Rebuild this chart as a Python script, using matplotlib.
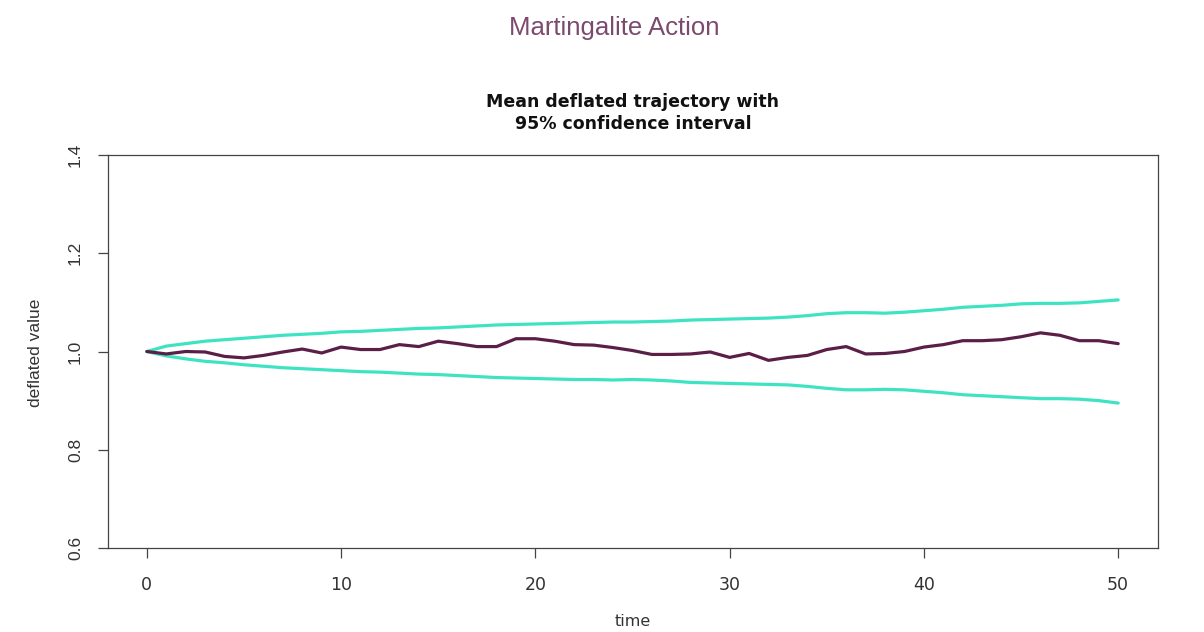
import numpy as np
import matplotlib
matplotlib.use("Agg")
import matplotlib.pyplot as plt

# Simulation time steps
time = list(range(51))

# Mean deflated trajectory
mean_traj = [1.000, 0.995, 1.000, 0.999, 0.990, 0.987, 0.992, 0.999, 1.005, 0.997,
             1.009, 1.004, 1.004, 1.014, 1.010, 1.021, 1.016, 1.010, 1.010, 1.026,
             1.026, 1.021, 1.014, 1.013, 1.008, 1.002, 0.994, 0.994, 0.995, 0.999,
             0.988, 0.996, 0.982, 0.988, 0.992, 1.004, 1.010, 0.995, 0.996, 1.000,
             1.009, 1.014, 1.022, 1.022, 1.024, 1.030, 1.038, 1.033, 1.022, 1.022,
             1.016]

# Upper and lower 95% confidence bounds
upper_ci = [1.000, 1.011, 1.016, 1.021, 1.024, 1.027, 1.030, 1.033, 1.035, 1.037,
            1.040, 1.041, 1.043, 1.045, 1.047, 1.048, 1.050, 1.052, 1.054, 1.055,
            1.056, 1.057, 1.058, 1.059, 1.060, 1.060, 1.061, 1.062, 1.064, 1.065,
            1.066, 1.067, 1.068, 1.070, 1.073, 1.077, 1.079, 1.079, 1.078, 1.080,
            1.083, 1.086, 1.090, 1.092, 1.094, 1.097, 1.098, 1.098, 1.099, 1.102,
            1.105]
lower_ci = [1.000, 0.991, 0.985, 0.980, 0.977, 0.973, 0.970, 0.967, 0.965, 0.963,
            0.961, 0.959, 0.958, 0.956, 0.954, 0.953, 0.951, 0.949, 0.947, 0.946,
            0.945, 0.944, 0.943, 0.943, 0.942, 0.943, 0.942, 0.940, 0.937, 0.936,
            0.935, 0.934, 0.933, 0.932, 0.929, 0.925, 0.922, 0.922, 0.923, 0.922,
            0.919, 0.916, 0.912, 0.910, 0.908, 0.906, 0.904, 0.904, 0.903, 0.900,
            0.895]

x_ticks = [0, 10, 20, 30, 40, 50]
y_ticks = [0.6, 0.8, 1.0, 1.2, 1.4]
y_tick_labels = ["0.6", "0.8", "1.0", "1.2", "1.4"]

W, H = 1204, 632
fig = plt.figure(figsize=(W / 100, H / 100), dpi=100)
fig.patch.set_facecolor("white")

ax = fig.add_axes([108 / W, 1 - 548 / H, 1050 / W, 393 / H])

ci_color = "#3ee4c2"
mean_color = "#5b1f47"
ax.plot(time, upper_ci, color=ci_color, lw=2.3, solid_capstyle="round", zorder=2)
ax.plot(time, lower_ci, color=ci_color, lw=2.3, solid_capstyle="round", zorder=2)
ax.plot(time, mean_traj, color=mean_color, lw=2.3, solid_capstyle="round", zorder=3)

ax.set_xlim(-2.0, 52.05)
ax.set_ylim(0.6, 1.4)

for s in ax.spines.values():
    s.set_color("#444444")
    s.set_linewidth(0.9)

ax.set_xticks(x_ticks)
ax.set_xticklabels([str(v) for v in x_ticks], fontfamily="DejaVu Sans",
                   fontsize=12.5, color="#333333")
ax.set_yticks(y_ticks)
ax.set_yticklabels(y_tick_labels, rotation=90, va="center",
                   fontfamily="Liberation Sans", fontsize=12.5, color="#333333")
ax.tick_params(axis="both", direction="out", length=7, width=0.9,
               color="#444444")
ax.tick_params(axis="x", pad=13)
ax.tick_params(axis="y", pad=11)

fig.text(36 / W, 1 - 353 / H, "deflated value", rotation=90, ha="center",
         va="center", fontfamily="Liberation Sans", fontsize=12.5,
         color="#333333")
fig.text(633 / W, 1 - 622 / H, "time", ha="center", va="center",
         fontfamily="DejaVu Sans", fontsize=11.5, color="#333333")

fig.text(633 / W, 1 - 129 / H, "Mean deflated trajectory with\n95% confidence interval",
         ha="center", va="baseline", fontfamily="DejaVu Sans", fontweight="bold",
         fontsize=12.5, color="#111111", linespacing=1.3, multialignment="center")

fig.text(614 / W, 1 - 35 / H, "Martingalite Action", ha="center", va="baseline",
         fontfamily="Liberation Sans", fontsize=18.5, color="#7b4a6e")

fig.savefig("out.png", dpi=100, facecolor="white")
